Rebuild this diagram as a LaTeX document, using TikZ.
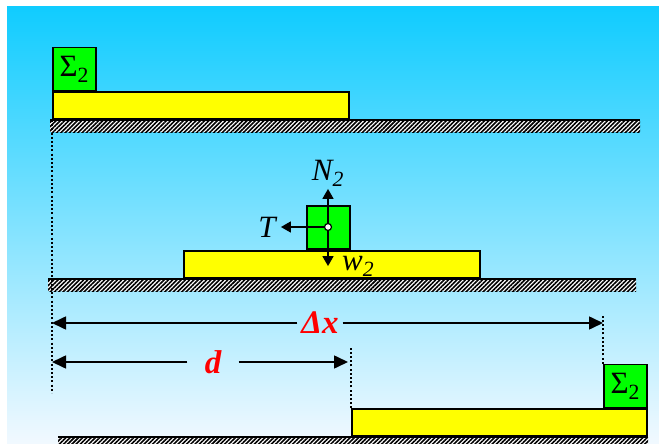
\documentclass[tikz,border=0pt]{standalone}
\usepackage{fontspec}
\usepackage{amsmath}
\setmainfont{Liberation Serif}
\usetikzlibrary{positioning, arrows.meta, patterns.meta}
\definecolor{skyTop}{RGB}{16,204,255}
\definecolor{skyBot}{RGB}{242,249,255}
\definecolor{plankYellow}{HTML}{FFFF00}
\definecolor{blockGreen}{HTML}{00FF00}
\definecolor{labRed}{HTML}{FF0000}
\newcommand{\lsub}[1]{$_{\text{#1}}$}

\begin{document}
\begin{tikzpicture}[x=1pt, y=-1pt,
    plank/.style={draw=black, fill=plankYellow, line width=1.6pt, inner sep=0pt, minimum height=27pt},
    blk/.style={draw=black, fill=blockGreen, line width=1.6pt, inner sep=0pt,
      minimum width=43pt, minimum height=43pt, font=\fontsize{31}{33}\selectfont},
    gnd/.style={fill=white, inner sep=0pt, minimum height=12pt,
      postaction={pattern={Lines[angle=45, distance=3pt, line width=1.6pt]}}},
    gndline/.style={line width=2pt, black},
    guide/.style={black, line width=2pt, dash pattern=on 2pt off 2.2pt},
    dim/.style={-{Triangle[length=14pt, width=13pt]}, line width=1.6pt},
    force/.style={-{Triangle[length=10pt, width=11pt]}, line width=1.6pt},
    lab/.style={font=\fontsize{31}{33}\selectfont\itshape, inner sep=0pt},
    dimlab/.style={font=\fontsize{33}{35}\selectfont\bfseries\itshape, text=labRed, inner sep=0pt}]
    \useasboundingbox (0,0) rectangle (659,444);
    \shade[top color=skyTop, bottom color=skyBot] (7,7) rectangle (659,444);
    % start
    \node[gnd, minimum width=590pt, anchor=north west] (gndA) at (50,120) {};
    \draw[gndline] (gndA.north west) -- (gndA.north east);
    \node[plank, minimum width=296pt, anchor=south west] (plankA) at (52,120) {};
    \node[blk, anchor=south west] (blkA) at (plankA.north west) {Σ\lsub{2}};
    % free body
    \node[gnd, minimum width=588pt, anchor=north west] (gndB) at (48,279) {};
    \draw[gndline] (gndB.north west) -- (gndB.north east);
    \node[plank, minimum width=296pt, anchor=south west] (plankB) at (183,279) {};
    \node[blk, anchor=south west] (blkB) at (306,250) {};
    \coordinate (cgPos) at (328,227);
    \node[circle, draw, fill=white, line width=1.2pt, inner sep=0pt, minimum size=7pt] (cg) at (cgPos) {};
    \coordinate[above=34pt of cg] (nTip);
    \coordinate[left=43pt of cg] (tTip);
    \coordinate[below=35pt of cg] (wTip);
    \foreach \t in {nTip,tTip,wTip} \draw[force] (cg) -- (\t);
    \node[lab, above=2pt of nTip] (nLab) {N\lsub{\itshape 2}};
    \node[lab, left=5pt of tTip] (tLab) {T};
    \node[lab, right=14pt of wTip] (wLab) {w\lsub{\itshape 2}};
    % end
    \node[gnd, minimum width=590pt, anchor=north west] (gndC) at (58,437) {};
    \draw[gndline] (gndC.north west) -- (gndC.north east);
    \node[plank, minimum width=295pt, anchor=south west] (plankC) at (351,437) {};
    \node[blk, anchor=south east] (blkC) at (plankC.north east) {Σ\lsub{2}};
    % guides
    \coordinate (gA) at (52,393);
    \coordinate (gB) at (351,347);
    \coordinate (gC) at (603,314);
    \draw[guide] (plankA.south west) -- (gA);
    \draw[guide] (plankC.north west) -- (gB);
    \draw[guide] (blkC.north west) -- (gC);
    % distances
    \coordinate (dxL) at (52,323);
    \coordinate (dxR) at (603,323);
    \node[dimlab, minimum width=45pt] (dxLab) at (320,323) {Δx};
    \draw[dim] (dxLab) -- (dxL);
    \draw[dim] (dxLab) -- (dxR);
    \coordinate (dL) at (52,362);
    \coordinate (dR) at (348,362);
    \node[dimlab, minimum width=51pt] (dLab) at (213,362) {d};
    \draw[dim] (dLab) -- (dL);
    \draw[dim] (dLab) -- (dR);
\end{tikzpicture}
\end{document}
